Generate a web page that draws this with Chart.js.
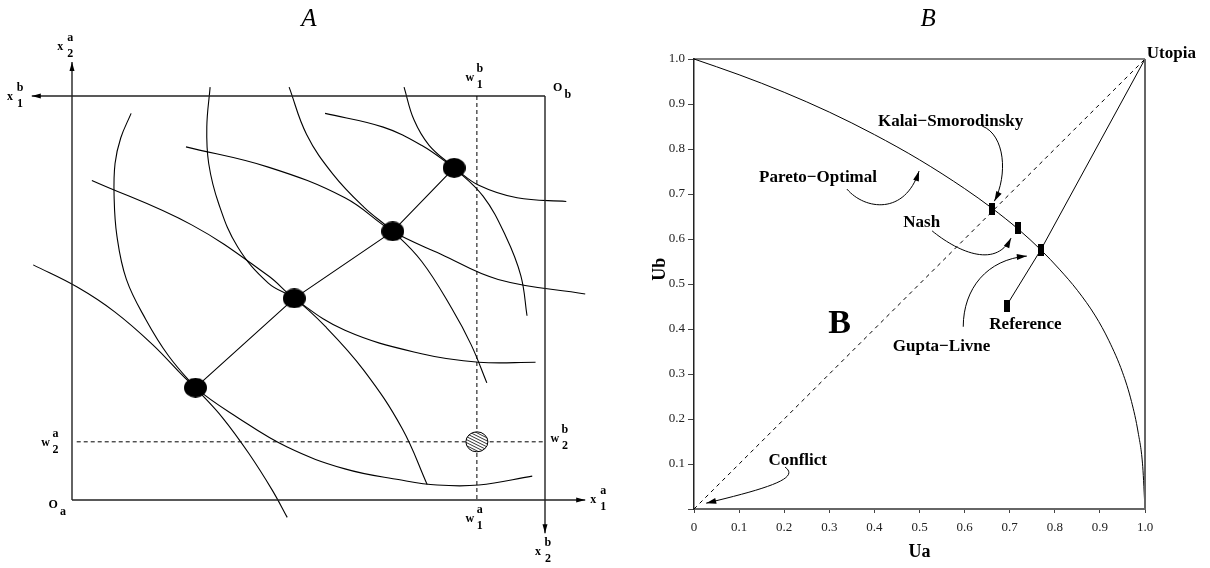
<!DOCTYPE html>
<html>
<head>
<meta charset="utf-8">
<script src="https://cdn.jsdelivr.net/npm/chart.js@4.4.1/dist/chart.umd.min.js"></script>
<style>
  html, body { margin: 0; padding: 0; background: #fff; }
  #wrap { position: relative; width: 1210px; height: 568px; }
  canvas { position: absolute; top: 0; }
  #chartA { left: 0; }
  #chartB { left: 620px; }
</style>
</head>
<body>
<div id="wrap">
  <canvas id="chartA" width="620" height="568"></canvas>
  <canvas id="chartB" width="590" height="568"></canvas>
</div>
<script>
// ---------- Panel A: Edgeworth box, both goods measured 0..100 from O_a ----------
const contractX1 = [26.1, 47.0, 67.8, 80.8];
const contractX2 = [27.8, 49.9, 66.5, 82.2];

// indifference curves of consumer a
const ia1X1 = [-8.2, 1.1, 9.1, 17.1, 26.1, 34.9, 45.5, 57.7, 69.3, 77.2, 86.0, 97.3];
const ia1X2 = [58.2, 52.7, 46.5, 38.4, 27.8, 20.5, 13.1, 7.7, 5.0, 3.7, 3.7, 5.9];
const ia2X1 = [4.2, 25.3, 41.5, 47.0, 57.7, 73.9, 86.0, 98.0];
const ia2X2 = [79.1, 68.1, 55.5, 49.9, 42.0, 36.2, 34.1, 34.1];
const ia3X1 = [24.1, 41.5, 57.7, 67.8, 77.9, 90.1, 108.5];
const ia3X2 = [87.4, 82.4, 74.8, 66.5, 60.9, 54.6, 51.0];
const ia4X1 = [53.5, 65.8, 73.9, 80.8, 86.0, 94.1, 104.5];
const ia4X2 = [95.7, 92.3, 87.8, 82.2, 77.9, 74.8, 73.9];

// indifference curves of consumer b
const ib1X1 = [12.5, 10.3, 9.1, 8.9, 9.5, 11.5, 15.6, 20.4, 26.1, 31.8, 37.4, 42.3, 45.5];
const ib1X2 = [95.7, 89.6, 83.3, 75.2, 65.3, 54.6, 44.7, 35.7, 27.8, 20.4, 11.5, 2.5, -4.3];
const ib2X1 = [29.2, 28.5, 28.9, 31.0, 35.0, 41.5, 47.0, 53.6, 61.7, 69.8, 75.1];
const ib2X2 = [102.2, 92.3, 83.3, 73.4, 62.7, 53.7, 49.9, 42.9, 32.1, 17.7, 3.8];
const ib3X1 = [45.9, 49.6, 55.2, 61.7, 67.8, 73.9, 80.3, 84.4, 87.7];
const ib3X2 = [102.2, 90.5, 80.6, 72.5, 66.5, 59.1, 47.4, 38.4, 29.0];
const ib4X1 = [70.2, 72.3, 75.5, 80.8, 86.9, 91.7, 94.9, 96.2];
const ib4X2 = [102.2, 94.1, 87.8, 82.2, 75.2, 65.3, 55.5, 45.6];

const endowment = [85.6, 14.4];

// ---------- Panel B: utility space ----------
const paretoUa = [0, 0.1, 0.2, 0.3, 0.4, 0.5, 0.6, 0.66, 0.72, 0.77, 0.81, 0.85, 0.89, 0.92, 0.95, 0.97, 0.985, 0.995, 1.0];
const paretoUb = [1.0, 0.965, 0.926, 0.882, 0.832, 0.776, 0.712, 0.669, 0.621, 0.575, 0.533, 0.486, 0.429, 0.374, 0.304, 0.239, 0.169, 0.094, 0.0];

const solutionNames = ['Kalai-Smorodinsky', 'Nash', 'Gupta-Livne', 'Reference'];
const solutionUa = [0.66, 0.718, 0.769, 0.693];
const solutionUb = [0.667, 0.624, 0.576, 0.452];

const conflictPoint = [0, 0];
const utopiaPoint = [1, 1];

const xTickLabels = ['0', '0.1', '0.2', '0.3', '0.4', '0.5', '0.6', '0.7', '0.8', '0.9', '1.0'];
const yTickLabels = ['', '0.1', '0.2', '0.3', '0.4', '0.5', '0.6', '0.7', '0.8', '0.9', '1.0'];

const SERIF = '"Liberation Serif", "DejaVu Serif", serif';

function pts(xs, ys) {
    return xs.map((x, i) => ({ x: x, y: ys[i] }));
}

function curve(xs, ys, extra) {
    return Object.assign({
        data: pts(xs, ys),
        showLine: true,
        borderColor: '#000',
        borderWidth: 1.1,
        pointRadius: 0,
        tension: 0.4,
        fill: false,
        clip: false
    }, extra || {});
}

function shapeImg(w, h, kind) {
    const c = document.createElement('canvas');
    c.width = w;
    c.height = h;
    const g = c.getContext('2d');
    g.fillStyle = '#000';
    if (kind === 'ellipse') {
        g.beginPath();
        g.ellipse(w / 2, h / 2, w / 2, h / 2, 0, 0, Math.PI * 2);
        g.fill();
    } else {
        g.fillRect(0, 0, w, h);
    }
    return c;
}

function arrowHead(ctx, tip, angle, len, half) {
    const bx = tip[0] - len * Math.cos(angle);
    const by = tip[1] - len * Math.sin(angle);
    ctx.beginPath();
    ctx.moveTo(tip[0], tip[1]);
    ctx.lineTo(bx + half * Math.sin(angle), by - half * Math.cos(angle));
    ctx.lineTo(bx - half * Math.sin(angle), by + half * Math.cos(angle));
    ctx.closePath();
    ctx.fill();
}

function arrowLine(ctx, a, b) {
    ctx.beginPath();
    ctx.moveTo(a[0], a[1]);
    ctx.lineTo(b[0], b[1]);
    ctx.stroke();
    arrowHead(ctx, b, Math.atan2(b[1] - a[1], b[0] - a[0]), 9, 2.5);
}

function subSup(ctx, p, base, sup, sub) {
    ctx.fillText(base, p[0], p[1]);
    if (sup) ctx.fillText(sup, p[0] + 10, p[1] - 9);
    if (sub) ctx.fillText(sub, p[0] + 10, p[1] + 7);
}

// annotations of panel A (box units)
const aLabels = [
    [[-2.5, 112.1], 'x', 'a', '2'],
    [[-13.1, 99.8], 'x', 'b', '1'],
    [[102.7, 102.0], 'O', '', 'b'],
    [[84.1, 104.5], 'w', 'b', '1'],
    [[-4.0, -1.2], 'O', '', 'a'],
    [[-5.6, 14.1], 'w', 'a', '2'],
    [[102.1, 15.1], 'w', 'b', '2'],
    [[84.1, -4.7], 'w', 'a', '1'],
    [[110.2, 0], 'x', 'a', '1'],
    [[98.5, -12.9], 'x', 'b', '2']
];

const panelA = {
    id: 'panelA',
    afterDatasetsDraw(chart) {
        const { ctx, scales: { x, y } } = chart;
        const P = (u, v) => [x.getPixelForValue(u), y.getPixelForValue(v)];
        ctx.save();
        ctx.strokeStyle = '#222';
        ctx.fillStyle = '#000';
        ctx.lineWidth = 1.4;
        arrowLine(ctx, P(0, 0), P(0, 108.4));
        arrowLine(ctx, P(100, 100), P(-8.5, 100));
        arrowLine(ctx, P(100, 100), P(100, -8.2));
        arrowLine(ctx, P(0, 0), P(108.5, 0));

        ctx.lineWidth = 1;
        ctx.strokeStyle = '#000';
        ctx.setLineDash([4, 3]);
        let a = P(endowment[0], 100), b = P(endowment[0], 0);
        ctx.beginPath(); ctx.moveTo(a[0], a[1]); ctx.lineTo(b[0], b[1]); ctx.stroke();
        a = P(1, endowment[1]); b = P(100, endowment[1]);
        ctx.beginPath(); ctx.moveTo(a[0], a[1]); ctx.lineTo(b[0], b[1]); ctx.stroke();
        ctx.setLineDash([]);

        // endowment point, hatched
        const e = P(endowment[0], endowment[1]);
        ctx.beginPath();
        ctx.ellipse(e[0], e[1], 11, 10, 0, 0, Math.PI * 2);
        ctx.fillStyle = '#fff';
        ctx.fill();
        ctx.save();
        ctx.clip();
        ctx.lineWidth = 0.8;
        for (let k = -24; k <= 24; k += 3) {
            ctx.beginPath();
            ctx.moveTo(e[0] - 14, e[1] + k - 7);
            ctx.lineTo(e[0] + 14, e[1] + k + 7);
            ctx.stroke();
        }
        ctx.restore();
        ctx.beginPath();
        ctx.ellipse(e[0], e[1], 11, 10, 0, 0, Math.PI * 2);
        ctx.stroke();

        ctx.fillStyle = '#000';
        ctx.font = 'bold 12px ' + SERIF;
        ctx.textAlign = 'center';
        ctx.textBaseline = 'middle';
        aLabels.forEach(l => subSup(ctx, P(l[0][0], l[0][1]), l[1], l[2], l[3]));

        ctx.font = 'italic 25px ' + SERIF;
        const t = P(50.1, 118.9);
        ctx.fillText('A', t[0], t[1]);
        ctx.restore();
    }
};

new Chart(document.getElementById('chartA'), {
    type: 'scatter',
    data: {
        datasets: [
            curve(contractX1, contractX2, { tension: 0, pointRadius: 10, pointStyle: shapeImg(23, 20, 'ellipse') }),
            curve(ia1X1, ia1X2), curve(ia2X1, ia2X2), curve(ia3X1, ia3X2), curve(ia4X1, ia4X2),
            curve(ib1X1, ib1X2), curve(ib2X1, ib2X2), curve(ib3X1, ib3X2), curve(ib4X1, ib4X2)
        ]
    },
    options: {
        responsive: false,
        animation: false,
        events: [],
        layout: { padding: { left: 72, right: 75, top: 96, bottom: 68 } },
        plugins: { legend: { display: false }, tooltip: { enabled: false } },
        scales: {
            x: { type: 'linear', min: 0, max: 100, display: false },
            y: { type: 'linear', min: 0, max: 100, display: false }
        }
    },
    plugins: [panelA]
});

// annotations of panel B (utility units)
const bLabels = [
    ['Kalai\u2212Smorodinsky', 0.569, 0.861],
    ['Pareto\u2212Optimal', 0.275, 0.736],
    ['Nash', 0.505, 0.636],
    ['Reference', 0.735, 0.410],
    ['Gupta\u2212Livne', 0.549, 0.360],
    ['Conflict', 0.230, 0.108]
];
const bArrows = [
    [[0.639, 0.851], [0.690, 0.831], [0.696, 0.742], [0.666, 0.684]],
    [[0.339, 0.711], [0.379, 0.664], [0.468, 0.653], [0.499, 0.751]],
    [[0.528, 0.618], [0.579, 0.576], [0.667, 0.531], [0.703, 0.602]],
    [[0.597, 0.405], [0.597, 0.490], [0.650, 0.555], [0.738, 0.562]],
    [[0.202, 0.093], [0.235, 0.069], [0.169, 0.047], [0.027, 0.013]]
];

const panelB = {
    id: 'panelB',
    afterDatasetsDraw(chart) {
        const { ctx, scales: { x, y } } = chart;
        const P = (u, v) => [x.getPixelForValue(u), y.getPixelForValue(v)];
        ctx.save();
        let a = P(0, 1), b = P(1, 1), c = P(1, 0);
        ctx.strokeStyle = '#000';
        ctx.lineWidth = 1;
        ctx.beginPath(); ctx.moveTo(a[0], a[1]); ctx.lineTo(b[0], b[1]); ctx.stroke();
        ctx.strokeStyle = '#666';
        ctx.lineWidth = 2;
        ctx.beginPath(); ctx.moveTo(b[0], b[1]); ctx.lineTo(c[0], c[1]); ctx.stroke();

        ctx.strokeStyle = '#000';
        ctx.fillStyle = '#000';
        ctx.lineWidth = 1;
        bArrows.forEach(ar => {
            const p = ar.map(q => P(q[0], q[1]));
            ctx.beginPath();
            ctx.moveTo(p[0][0], p[0][1]);
            ctx.bezierCurveTo(p[1][0], p[1][1], p[2][0], p[2][1], p[3][0], p[3][1]);
            ctx.stroke();
            arrowHead(ctx, p[3], Math.atan2(p[3][1] - p[2][1], p[3][0] - p[2][0]), 10, 3);
        });

        ctx.textAlign = 'center';
        ctx.textBaseline = 'middle';
        ctx.font = 'bold 17px ' + SERIF;
        bLabels.forEach(l => {
            const p = P(l[1], l[2]);
            ctx.fillText(l[0], p[0], p[1]);
        });
        ctx.textAlign = 'left';
        const u = P(1.004, 1.013);
        ctx.fillText('Utopia', u[0], u[1]);

        ctx.textAlign = 'center';
        ctx.font = 'bold 34px ' + SERIF;
        const bb = P(0.323, 0.410);
        ctx.fillText('B', bb[0], bb[1]);

        ctx.font = 'bold 18px ' + SERIF;
        const ub = P(-0.075, 0.533);
        ctx.save();
        ctx.translate(ub[0], ub[1]);
        ctx.rotate(-Math.PI / 2);
        ctx.fillText('Ub', 0, 0);
        ctx.restore();

        ctx.font = 'italic 25px ' + SERIF;
        const t = P(0.519, 1.087);
        ctx.fillText('B', t[0], t[1]);
        ctx.restore();
    }
};

new Chart(document.getElementById('chartB'), {
    type: 'scatter',
    data: {
        datasets: [
            {
                label: 'solutions',
                data: pts(solutionUa, solutionUb),
                pointStyle: shapeImg(6, 12, 'rect'),
                pointRadius: 5,
                showLine: false
            },
            curve(paretoUa, paretoUb, { cubicInterpolationMode: 'monotone', borderWidth: 1 }),
            curve([conflictPoint[0], utopiaPoint[0]], [conflictPoint[1], utopiaPoint[1]], { tension: 0, borderWidth: 1, borderDash: [4, 4] }),
            curve([solutionUa[3], solutionUa[2], utopiaPoint[0]], [solutionUb[3], solutionUb[2], utopiaPoint[1]], { tension: 0, borderWidth: 1 })
        ]
    },
    options: {
        responsive: false,
        animation: false,
        events: [],
        layout: { padding: { left: 0, right: 65, top: 59, bottom: 0 } },
        plugins: { legend: { display: false }, tooltip: { enabled: false } },
        scales: {
            x: {
                type: 'linear', min: 0, max: 1,
                afterFit: s => { s.height = 59; },
                border: { display: true, color: '#666', width: 2 },
                grid: { drawOnChartArea: false, drawTicks: true, tickLength: 4, color: '#444' },
                ticks: {
                    stepSize: 0.1, padding: 7, color: '#222', maxRotation: 0, autoSkip: false,
                    font: { family: SERIF, size: 13 },
                    callback: (v, i) => xTickLabels[i]
                },
                title: {
                    display: true, text: 'Ua', color: '#000',
                    font: { family: SERIF, size: 18, weight: 'bold' },
                    padding: { top: 0, bottom: 5 }
                }
            },
            y: {
                type: 'linear', min: 0, max: 1,
                afterFit: s => { s.width = 74; },
                border: { display: true, color: '#222', width: 1.5 },
                grid: { drawOnChartArea: false, drawTicks: true, tickLength: 6, color: '#444' },
                ticks: {
                    stepSize: 0.1, padding: 3, color: '#222', autoSkip: false,
                    font: { family: SERIF, size: 13 },
                    callback: (v, i) => yTickLabels[i]
                }
            }
        }
    },
    plugins: [panelB]
});
</script>
</body>
</html>
